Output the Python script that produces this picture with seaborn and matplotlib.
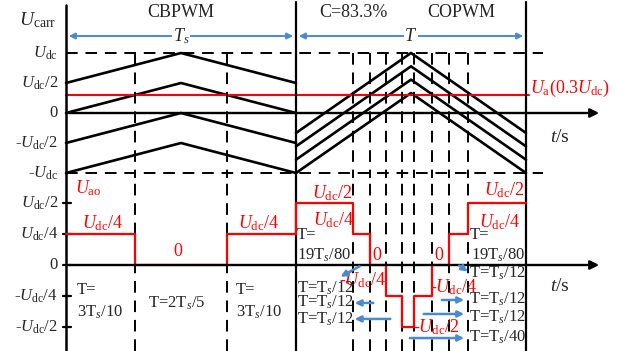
import numpy as np
import pandas as pd
import seaborn as sns
import matplotlib.pyplot as plt

# ---- data (time in units of Ts, voltage in units of Udc) ----
period_t = [0.0, 0.5, 1.0]                 # start / peak / end of one carrier period
cb_low = [0.5, 0.0, -0.5, -1.0]            # CBPWM carrier minima
cb_high = [1.0, 0.5, 0.0, -0.5]            # CBPWM carrier maxima
co_low = [-0.333, -0.556, -0.778, -1.0]    # COPWM carrier minima (C=83.3%)
co_high = [1.0, 0.778, 0.556, 0.333]       # COPWM carrier maxima
ua_ref = 0.3                               # reference Ua = 0.3 Udc

cb_switch = [0.3, 0.7]
cb_levels = [0.25, 0.0, 0.25]
co_switch = [1.25, 1.32, 1.393, 1.463, 1.515, 1.593, 1.667, 1.746]
co_levels = [0.5, 0.25, 0.0, -0.25, -0.5, -0.25, 0.0, 0.25, 0.5]

top_ticks = [1.0, 0.5, 0.0, -0.5, -1.0]
top_labels = ['$U_{\\mathrm{dc}}$', '$U_{\\mathrm{dc}}$/2', '0', '-$U_{\\mathrm{dc}}$/2', '-$U_{\\mathrm{dc}}$']
bot_ticks = [0.5, 0.25, 0.0, -0.25, -0.5]
bot_labels = ['$U_{\\mathrm{dc}}$/2', '$U_{\\mathrm{dc}}$/4', '0', '-$U_{\\mathrm{dc}}$/4', '-$U_{\\mathrm{dc}}$/2']

BLUE = '#4a8ad2'
RED = '#ff0000'

sns.set_theme(style='white')
plt.rcParams['font.family'] = ['Liberation Serif', 'DejaVu Serif']
plt.rcParams['mathtext.fontset'] = 'custom'
plt.rcParams['mathtext.rm'] = 'Liberation Serif'
plt.rcParams['mathtext.it'] = 'Liberation Serif:italic'
FS = 12

fig = plt.figure(figsize=(6.24, 3.51), dpi=100)
xl = (-66 / 230, 558 / 230)
ax1 = fig.add_axes([0, 1 - 178 / 351, 1, 178 / 351])
ax2 = fig.add_axes([0, 0, 1, 173 / 351])
ax1.set_xlim(xl); ax1.set_ylim((113 - 178) / 60, 113 / 60)
ax2.set_xlim(xl); ax2.set_ylim((265 - 351) / 124, (265 - 178) / 124)
for a in (ax1, ax2):
    a.axis('off')

# carriers as a long table
rows = []
for k, (lo, hi) in enumerate(zip(cb_low, cb_high)):
    for t, v in zip(period_t, [lo, hi, lo]):
        rows.append({'t': t, 'u': v, 'c': 'cb%d' % k})
for k, (lo, hi) in enumerate(zip(co_low, co_high)):
    for t, v in zip(period_t, [lo, hi, lo]):
        rows.append({'t': t + 1.0, 'u': v, 'c': 'co%d' % k})
carr = pd.DataFrame(rows)
sns.lineplot(data=carr, x='t', y='u', hue='c', units='c', estimator=None, sort=False,
             palette=['black'] * carr['c'].nunique(), legend=False, lw=1.9, ax=ax1)

# reference
ax1.plot([0, 2.013], [ua_ref, ua_ref], color=RED, lw=1.5)
ax1.text(2.017, 0.417, '$U_{\\mathrm{a}}$(0.3$U_{\\mathrm{dc}}$)', color=RED, fontsize=FS + 1, va='center', ha='left')

# dashed guide lines
for y in (1.0, -1.0):
    ax1.plot([0, 2.074], [y, y], color='black', lw=1.4, ls=(0, (6, 4)))
for x in cb_switch + co_switch:
    ax1.plot([x, x], [1.0, ax1.get_ylim()[0]], color='black', lw=1.4, ls=(0, (6, 4)))
    ax2.plot([x, x], list(ax2.get_ylim()), color='black', lw=1.4, ls=(0, (6, 4)))

# axes lines
for a in (ax1, ax2):
    y0, y1 = a.get_ylim()
    a.plot([0, 0], [y0, y1 if a is ax2 else 1.8], color='black', lw=1.8)
    for x in (1.0, 2.0):
        a.plot([x, x], [y0, y1 if a is ax2 else 1.85], color='black', lw=1.6)
    a.annotate('', xy=(2.33, 0), xytext=(0, 0),
               arrowprops=dict(arrowstyle='-|>', color='black', lw=1.7, mutation_scale=13))
ax1.annotate('', xy=(0, 1.93), xytext=(0, 1.5),
             arrowprops=dict(arrowstyle='-|>', color='black', lw=1.7, mutation_scale=11))

# ticks and labels
for y, s in zip(top_ticks, top_labels):
    ax1.text(-0.035, y, s, fontsize=FS, ha='right', va='center')
for y, s in zip(bot_ticks, bot_labels):
    ax2.plot([-0.012, 0.022], [y, y], color='black', lw=1.6)
    ax2.text(-0.035, y, s, fontsize=FS, ha='right', va='center')
ax1.text(-0.125, 1.55, '$U_{\\mathrm{carr}}$', fontsize=FS + 2, ha='center', va='center')
ax1.text(0.5, 1.683, 'CBPWM', fontsize=FS + 1, ha='center', va='center')
ax1.text(1.25, 1.683, 'C=83.3%', fontsize=FS + 1, ha='center', va='center')
ax1.text(1.72, 1.683, 'COPWM', fontsize=FS + 1, ha='center', va='center')
ax1.text(2.148, -0.4, '$t$/s', fontsize=FS + 2, ha='center', va='center')
ax2.text(2.148, -0.177, '$t$/s', fontsize=FS + 2, ha='center', va='center')

# period arrows
for x0, x1, s in [(0, 1, '$T_s$'), (1, 2, '$T$')]:
    ax1.annotate('', xy=(x1, 1.283), xytext=(x0, 1.283),
                 arrowprops=dict(arrowstyle='<|-|>', color=BLUE, lw=1.4, mutation_scale=9))
    ax1.text((x0 + x1) / 2, 1.283, s, fontsize=FS + 1, ha='center', va='center',
             bbox=dict(facecolor='white', edgecolor='none', pad=0.5))

# output voltage Uao (steps)
edges = [0.0] + cb_switch + [1.0] + co_switch + [2.0]
levels = cb_levels + co_levels
sx, sy = [], []
for i, v in enumerate(levels):
    sx += [edges[i], edges[i + 1]]
    sy += [v, v]
step = pd.DataFrame({'t': sx, 'u': sy})
sns.lineplot(data=step, x='t', y='u', sort=False, estimator=None, color=RED, lw=1.6, ax=ax2)

red_txt = [
    (0.096, 0.62, '$U_{\\mathrm{ao}}$'), (0.157, 0.34, '$U_{\\mathrm{dc}}$/4'), (0.487, 0.105, '0'),
    (0.835, 0.34, '$U_{\\mathrm{dc}}$/4'), (1.157, 0.58, '$U_{\\mathrm{dc}}$/2'), (1.165, 0.363, '$U_{\\mathrm{dc}}$/4'),
    (1.352, 0.08, '0'), (1.622, 0.08, '0'), (1.291, -0.12, '-$U_{\\mathrm{dc}}$/4'),
    (1.687, -0.18, '-$U_{\\mathrm{dc}}$/4'), (1.609, -0.5, '-$U_{\\mathrm{dc}}$/2'),
    (1.904, 0.605, '$U_{\\mathrm{dc}}$/2'), (1.887, 0.347, '$U_{\\mathrm{dc}}$/4'),
]
for x, y, s in red_txt:
    ax2.text(x, y, s, color=RED, fontsize=FS + 1, ha='center', va='center')

blk_txt = [
    (0.048, -0.2, 'T='), (0.048, -0.38, '3T$_s$/10'), (0.74, -0.2, 'T='), (0.74, -0.38, '3T$_s$/10'),
    (1.004, 0.242, 'T='), (1.004, 0.08, '19T$_s$/80'), (1.757, 0.242, 'T='), (1.762, 0.08, '19T$_s$/80'),
    (1.004, -0.185, 'T=T$_s$/12'), (1.004, -0.30, 'T=T$_s$/12'), (1.004, -0.435, 'T=T$_s$/12'),
    (1.752, -0.07, 'T=T$_s$/12'), (1.752, -0.28, 'T=T$_s$/12'), (1.752, -0.42, 'T=T$_s$/12'),
    (1.752, -0.58, 'T=T$_s$/40'),
]
for x, y, s in blk_txt:
    ax2.text(x, y, s, fontsize=FS, ha='left', va='center')
ax2.text(0.48, -0.31, 'T=2T$_s$/5', fontsize=FS, ha='center', va='center')

arrows = [
    ((1.287, 0.0), (1.183, -0.105)), ((1.348, -0.306), (1.243, -0.306)), ((1.422, -0.435), (1.243, -0.435)),
    ((1.70, 0.008), (1.757, -0.065)), ((1.622, -0.282), (1.743, -0.282)), ((1.543, -0.395), (1.743, -0.395)),
    ((1.483, -0.589), (1.743, -0.589)),
]
for (x0, y0), (x1, y1) in arrows:
    ax2.annotate('', xy=(x1, y1), xytext=(x0, y0),
                 arrowprops=dict(arrowstyle='-|>', color=BLUE, lw=1.8, mutation_scale=9))

fig.savefig('out.png', dpi=100)
